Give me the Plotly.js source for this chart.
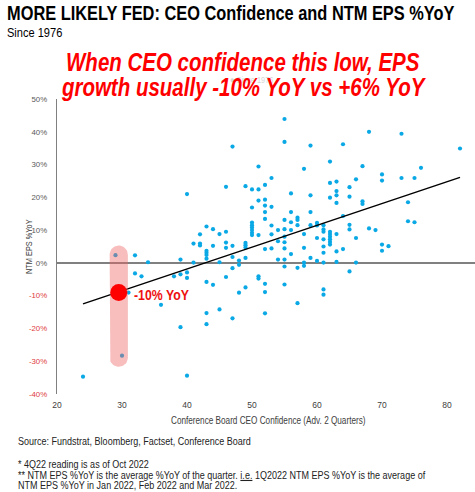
<!DOCTYPE html>
<html><head><meta charset="utf-8">
<script src="https://cdn.plot.ly/plotly-3.0.1.min.js"></script>
<style>
html,body{margin:0;padding:0;background:#fff}
/* narrow look: compress annotation text horizontally */
.annotation-text{transform-box:fill-box;transform:scaleX(0.82);}
.annotation-text[text-anchor="start"]{transform-origin:0% 50%;}
.annotation-text[text-anchor="middle"]{transform-origin:50% 50%;}
</style>
</head><body><div id="chart" style="width:475px;height:492px"></div>
<script>
// ---------- DATA ----------
const ceoConfidence = [29,31,30,24,40,32,34,32,33,36,38,39,39,40,40,39,40,41,41,42,42,42,43,43,43,43,43,43,43,43,
  44,44,44,45,45,45,46,46,46,46,46,47,47,47,47,47,48,48,48,49,49,49,49,49,49,50,50,50,50,50,
  50,50,50,51,51,51,51,51,51,52,52,52,52,52,52,52,52,52,53,53,53,53,53,54,54,54,55,55,55,55,
  55,55,55,55,55,55,56,56,56,56,56,57,57,57,57,57,58,58,58,58,58,59,59,59,59,59,60,60,60,60,
  61,61,61,61,61,61,61,61,61,62,62,62,62,62,62,62,62,62,63,63,63,63,63,63,63,64,64,64,65,65,
  65,65,65,66,66,66,67,67,67,68,68,69,70,70,70,70,71,73,73,74,74,75,75,76,82];
const epsYoY = [2.35,-9.05,-28.3,-34.7,-34.4,2.3,0.2,-3.2,-4.1,-12.8,-4.1,1.0,-3.5,-2.9,-4.6,-19.6,21.0,5.9,0.1,8.7,5.9,5.3,11.1,3.7,3.1,2.4,1.3,-5.8,-15.3,-18.7,
  10.3,5.2,-6.7,8.8,0.2,-14.2,23.2,9.5,6.2,4.6,-4.3,35.5,5.2,1.8,-1.6,-16.9,0.7,-0.6,-9.1,23.4,6.1,5.4,4.7,1.5,-7.5,22.4,16.9,12.3,11.5,10.8,
  10.0,9.2,8.5,29.4,22.4,19.0,8.5,-4.1,-4.8,23.8,19.3,17.5,15.5,13.4,4.2,-6.4,-8.9,-15.4,25.9,17.1,11.4,8.7,4.4,10.0,6.6,1.0,43.9,36.9,13.1,10.3,
  8.0,6.3,4.4,1.0,-1.1,-6.6,21.2,15.5,12.4,10.0,2.7,13.8,13.1,11.5,-1.5,-12.3,28.7,8.8,4.6,0.1,-0.9,35.8,20.6,15.5,11.5,1.5,12.2,11.4,7.6,0.6,
  11.5,10.2,9.5,7.2,5.0,3.1,0.1,-8.1,-9.7,30.9,24.4,19.9,9.5,8.8,8.0,7.2,6.4,5.6,24.8,21.9,20.6,18.3,8.8,3.5,0.3,36.2,14.3,4.2,23.1,20.2,
  11.6,10.2,-2.6,25.5,7.6,0.1,29.5,18.8,18.0,10.5,40.0,10.0,27.0,25.1,5.6,3.7,5.1,39.4,25.9,18.5,12.7,25.9,12.4,29.0,34.9];
const trendX = [24, 82];
const trendY = [-12.5, 26.1];
const currentX = [29.5];
const currentY = [-9];
const currentLabel = '-10% YoY';
const yTickVals = [-40,-30,-20,-10,0,10,20,30,40,50];
const yTickLabels = ['-40%','-30%','-20%','-10%','0%','10%','20%','30%','40%','50%'];
const xTickVals = [20,30,40,50,60,70,80];
const xTickLabels = ['20','30','40','50','60','70','80'];

// ---------- STYLE ----------
const FONT = '"Liberation Sans",Arial,sans-serif';
const W = 475, H = 492, ML = 57, MR = 0, MT = 99, MB = 98;
const PW = W - ML - MR, PH = H - MT - MB;
const negRed = '#e03c3c', posGray = '#595959';

// highlight band (pill) around current reading
const band = {top: 5.3, bottom: -31.7, rx: 1.4, ry: 2.8};
const bandX = [], bandY = [];
for (let i = 0; i <= 24; i++) { const a = Math.PI * i / 24;
  bandX.push(currentX[0] + band.rx * Math.cos(a)); bandY.push(band.top - band.ry + band.ry * Math.sin(a)); }
for (let i = 0; i <= 24; i++) { const a = Math.PI + Math.PI * i / 24;
  bandX.push(currentX[0] + band.rx * Math.cos(a)); bandY.push(band.bottom + band.ry + band.ry * Math.sin(a)); }

const yTickText = yTickLabels.map((t, i) =>
  `<span style="color:${yTickVals[i] < 0 ? negRed : posGray}">${t}</span>`);

function ann(text, px, py, font, opts = {}) {
  return Object.assign({
    xref: 'paper', yref: 'paper', x: (px - ML) / PW, y: (H - MB - py) / PH,
    text, showarrow: false, xanchor: 'left', align: 'left', yanchor: 'middle',
    font: Object.assign({family: FONT, color: '#000'}, font)
  }, opts);
}

const traces = [
  {x: ceoConfidence, y: epsYoY, type: 'scatter', mode: 'markers',
   marker: {color: '#0aa9e6', size: 4.2}, hoverinfo: 'x+y', showlegend: false},
  {x: trendX, y: trendY, type: 'scatter', mode: 'lines',
   line: {color: '#000', width: 1.5}, hoverinfo: 'skip', showlegend: false},
  {x: bandX, y: bandY, type: 'scatter', mode: 'lines', fill: 'toself',
   fillcolor: 'rgba(238,100,100,0.42)', line: {width: 0}, hoverinfo: 'skip', showlegend: false},
  {x: currentX, y: currentY, type: 'scatter', mode: 'markers',
   marker: {color: '#ff0000', size: 17}, hoverinfo: 'skip', showlegend: false}
];

const red = {color: '#ff0000', weight: 'bold', style: 'italic', size: 25};
const foot = {size: 11, color: '#222'};

const layout = {
  width: W, height: H,
  margin: {l: ML, r: MR, t: MT, b: MB, pad: 0},
  paper_bgcolor: '#fff', plot_bgcolor: '#fff',
  showlegend: false,
  xaxis: {range: [20, 20 + PW / 6.5], tickvals: xTickVals, ticktext: xTickLabels,
    showgrid: false, zeroline: false, showline: false, ticks: '', ticklabelstandoff: 4,
    tickfont: {family: FONT, size: 8.5, color: '#404040'}},
  yaxis: {range: [-40, 50], tickvals: yTickVals, ticktext: yTickText,
    showgrid: false, zeroline: true, zerolinecolor: '#808080', zerolinewidth: 1.3,
    showline: true, linecolor: '#808080', linewidth: 1.3, ticks: '', ticklabelstandoff: 7,
    tickfont: {family: FONT, size: 7.8, color: posGray}},
  annotations: [
    ann('● Since 1976', 228, 80, {size: 9, color: '#d6d6d6'}),
    ann('MORE LIKELY FED: CEO Confidence and NTM EPS %YoY', 5, 12, {size: 20, weight: 'bold'}),
    ann('Since 1976', 5, 33, {size: 13.5}),
    ann('When CEO confidence this low, EPS', 243, 62, red, {xanchor: 'center', align: 'center'}),
    ann('growth usually -10% YoY vs +6% YoY', 243, 87, red, {xanchor: 'center', align: 'center'}),
    ann(currentLabel, 132, 294.5, {size: 15, color: '#ee1111', weight: 'bold'}),
    ann('Conference Board CEO Confidence (Adv. 2 Quarters)', 268, 420, {size: 10, color: '#404040'},
        {xanchor: 'center', align: 'center'}),
    ann('NTM EPS %YoY', 28.5, 246.5, {size: 9, color: '#404040'},
        {xanchor: 'center', align: 'center', textangle: -90}),
    ann('Source: Fundstrat, Bloomberg, Factset, Conference Board', 16, 440.5, foot),
    ann('* 4Q22 reading is as of Oct 2022', 16, 463.5, foot),
    ann('** NTM EPS %YoY is the average %YoY of the quarter. <u>i.e.</u> 1Q2022 NTM EPS %YoY is the average of', 16, 475, foot),
    ann('NTM EPS %YoY in Jan 2022, Feb 2022 and Mar 2022.', 16, 485.5, foot)
  ]
};

Plotly.newPlot('chart', traces, layout, {displayModeBar: false, staticPlot: true});
</script>
</body></html>
